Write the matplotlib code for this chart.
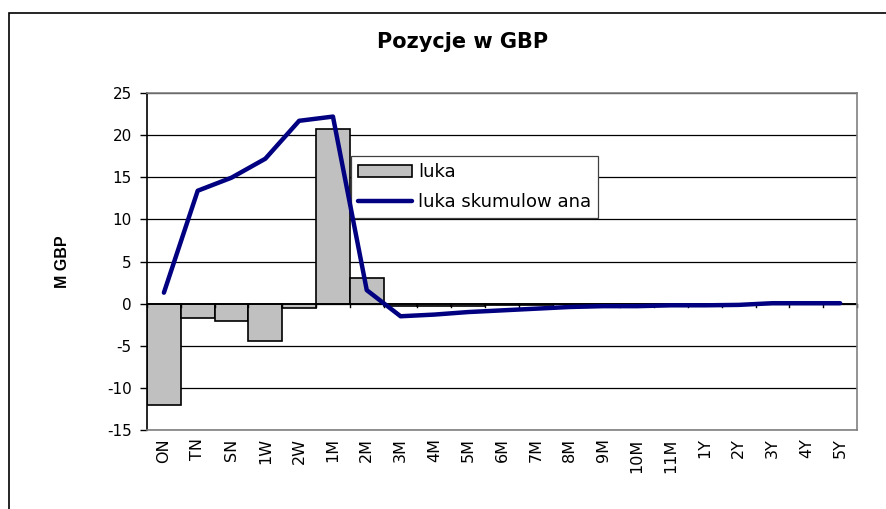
import matplotlib
matplotlib.use("Agg")
import matplotlib.pyplot as plt
from matplotlib.patches import Rectangle
import numpy as np

plt.rcParams['font.family'] = ['DejaVu Sans']

categories = ["ON", "TN", "SN", "1W", "2W", "1M", "2M", "3M", "4M", "5M", "6M",
              "7M", "8M", "9M", "10M", "11M", "1Y", "2Y", "3Y", "4Y", "5Y"]
luka = [-12.0, -1.7, -2.1, -4.4, -0.55, 20.7, 3.1, -0.25, -0.25, -0.25, -0.2,
        -0.15, -0.1, -0.05, -0.05, -0.05, -0.05, 0.0, 0.0, 0.0, 0.0]
luka_skum = [1.3, 13.4, 14.95, 17.2, 21.7, 22.2, 1.6, -1.5, -1.3, -1.0, -0.8,
             -0.6, -0.4, -0.3, -0.3, -0.2, -0.2, -0.15, 0.05, 0.05, 0.05]
yticks = [-15, -10, -5, 0, 5, 10, 15, 20, 25]

W, H = 886, 509
fig = plt.figure(figsize=(W/100, H/100), dpi=100)
ax = fig.add_axes([147/W, 1-430/H, (857-147)/W, (430-93)/H])

x = np.arange(len(categories))
bars = ax.bar(x, luka, width=1.0, color='#c0c0c0', edgecolor='black', linewidth=1.2,
              label='luka', zorder=2)
line, = ax.plot(x, luka_skum, color='#000080', linewidth=3.2, solid_capstyle='round',
                label='luka skumulow ana', zorder=3)

ax.set_xlim(-0.5, len(categories)-0.5)
ax.set_ylim(-15, 25)
ax.set_yticks(yticks)
ax.set_yticklabels([str(t) for t in yticks], fontsize=11)
ax.yaxis.grid(True, color='black', linewidth=0.9, zorder=0)
ax.set_axisbelow(True)

ax.set_xticks(x)
ax.set_xticklabels(categories, rotation=90, fontsize=11.5)
ax.tick_params(axis='x', length=0, pad=6)
ax.tick_params(axis='y', length=5, direction='out', width=1, pad=6)

# x axis at zero with boundary ticks
ax.axhline(0, color='black', linewidth=1.2, zorder=2.5)
for b in np.arange(-0.5, len(categories), 1.0):
    ax.plot([b, b], [0, -0.45], color='black', linewidth=1, zorder=2.5, clip_on=False)

for s in ['top', 'right', 'bottom']:
    ax.spines[s].set_color('#808080')
    ax.spines[s].set_linewidth(1.2)
ax.spines['left'].set_color('black')
ax.spines['left'].set_linewidth(1.2)

ax.set_ylabel('M GBP', fontsize=11.5, fontweight='bold',
              family=['Liberation Sans', 'DejaVu Sans'])
ax.yaxis.set_label_coords((70-147)/(857-147), 0.5)

leg = ax.legend([bars, line], ['luka', 'luka skumulow ana'],
                loc='upper left', bbox_to_anchor=((351-147)/(857-147), (430-156)/(430-93)),
                fontsize=13, frameon=True, fancybox=False, edgecolor='#404040',
                framealpha=1, borderpad=0.4, borderaxespad=0, handlelength=3.0,
                labelspacing=0.65, handletextpad=0.3)
leg.get_frame().set_linewidth(0.9)
leg.set_zorder(2.8)

fig.text(463/W, 1-42/H, 'Pozycje w GBP', ha='center', va='center',
         fontsize=15, fontweight='bold')

fig.patches.append(Rectangle((9/W, -0.1), 2, 1-13/H+0.1, transform=fig.transFigure,
                             fill=False, edgecolor='black', linewidth=1.2))

fig.savefig('out.png', dpi=100)
